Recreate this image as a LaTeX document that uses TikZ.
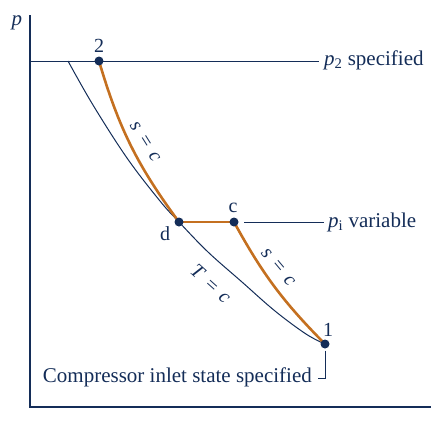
\documentclass[tikz,border=0pt]{standalone}
\usepackage{fontspec}
\setmainfont{Liberation Serif}
\definecolor{navy}{RGB}{20,45,88}
\definecolor{rust}{RGB}{196,112,32}
\tikzset{
  axisline/.style={draw=navy, line width=1.3pt},
  thinline/.style={draw=navy, line width=1pt},
  rustline/.style={draw=rust, line width=2.6pt},
  dot/.style={circle, fill=navy, inner sep=0pt, minimum size=9pt},
  lbl/.style={text=navy, font=\fontsize{20}{24}\selectfont, inner sep=0pt},
  txt/.style={text=navy, font=\fontsize{21}{25}\selectfont, inner sep=0pt},
  curvelbl/.style={text=navy, font=\fontsize{20}{24}\selectfont\itshape, inner sep=0pt}
}
\begin{document}
\begin{tikzpicture}[x=1pt,y=-1pt]
\useasboundingbox (0,0) rectangle (431,424);
% axes
\coordinate (ytop) at (30,15);
\coordinate (orig) at (30,407);
\coordinate (xend) at (431,407);
\draw[axisline] (ytop) -- (orig) -- (xend);
\node[txt, anchor=base] (plab) at (17,25) {\textit{p}};
% labels for pressure lines
\node[txt, anchor=base west] (p2lab) at (324,65) {\textit{p}\textsubscript{2} specified};
\node[txt, anchor=base west] (pilab) at (328,227) {\textit{p}\textsubscript{i} variable};
% state positions
\coordinate (s2) at (99,61);
\coordinate (sd) at (179,222);
\coordinate (sc) at (234,222);
\coordinate (s1) at (325,344);
% p2 line
\coordinate (p2start) at (30,61);
\draw[thinline] (p2start) -- ([xshift=-5pt]p2lab.west |- p2start);
% pi line
\coordinate (pistart) at (244,222);
\draw[thinline] (pistart) -- ([xshift=-4pt]pilab.west |- pistart);
% isotherm
\coordinate (tstart) at (68,61);
\draw[thinline] plot[smooth, tension=0.6] coordinates {(tstart) (93,105) (127,158) (160,201) (sd) (208,252) (242,282) (275,311) (306,334) (s1)};
% process lines
\draw[rustline] (s2) to[bend right=10] (sd);
\draw[rustline] (sd) -- (sc);
\draw[rustline] (sc) to[bend right=8] (s1);
% state dots and labels
\node[dot] (n2) at (s2) {};
\node[dot] (nd) at (sd) {};
\node[dot] (nc) at (sc) {};
\node[dot] (n1) at (s1) {};
\node[lbl, anchor=base] (l2) at (99,52) {2};
\node[lbl, anchor=base] (ld) at (165,240) {d};
\node[lbl, anchor=base] (lc) at (233,212) {c};
\node[lbl, anchor=base] (l1) at (328,336) {1};
% curve labels
\node[curvelbl, rotate=-58] (sc1) at (145,142) {s\hspace{0.35em}=\hspace{0.35em}c};
\node[curvelbl, rotate=-50] (sc2) at (278,267) {s\hspace{0.35em}=\hspace{0.35em}c};
\node[curvelbl, rotate=-42] (tc) at (211,284) {T\hspace{0.35em}=\hspace{0.35em}c};
% compressor inlet
\node[txt, anchor=base east] (comp) at (312,382) {Compressor inlet state specified};
\coordinate (bend1) at (325,378);
\coordinate (leadend) at (318,378);
\draw[thinline] ([yshift=-2pt]n1.south) -- (bend1) -- (leadend);
\end{tikzpicture}
\end{document}
